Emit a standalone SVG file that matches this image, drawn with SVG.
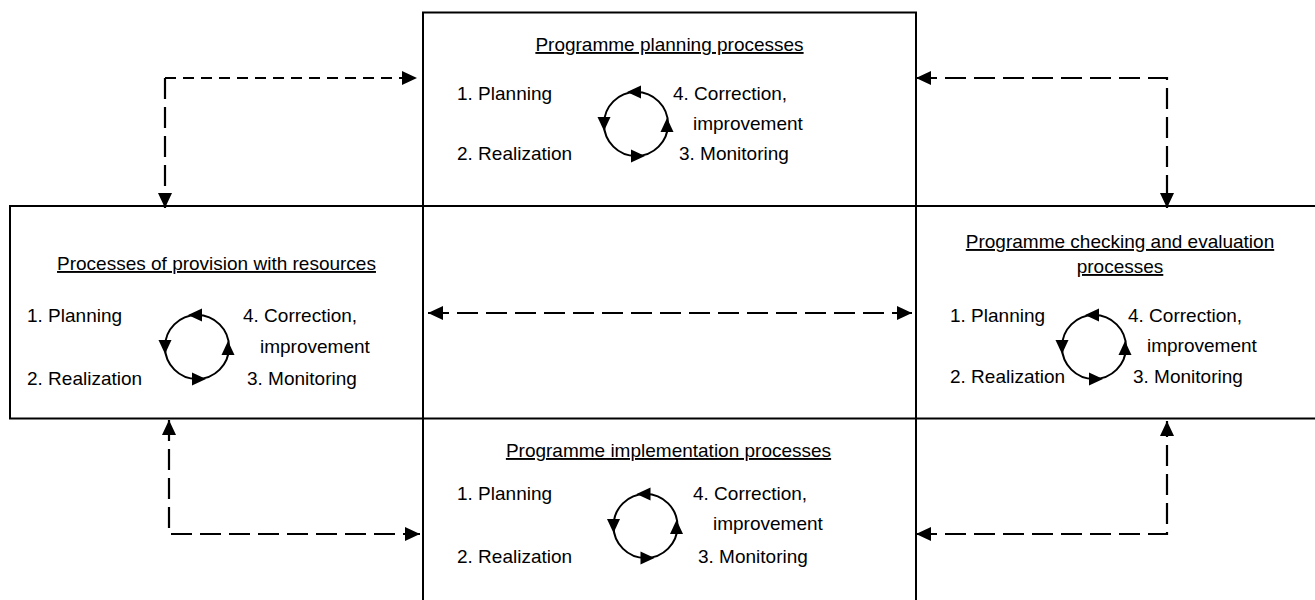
<svg xmlns="http://www.w3.org/2000/svg" xmlns:xlink="http://www.w3.org/1999/xlink" width="1315" height="600" viewBox="0 0 1315 600">
<style>
  .box { fill: #ffffff; stroke: #000000; stroke-width: 2; }
  text { font-family: "Liberation Sans", Arial, sans-serif; font-size: 19px; fill: #000000; }
  .title { text-anchor: middle; text-decoration: underline; }
  .conn { fill: none; stroke: #000000; stroke-width: 2.2; stroke-dasharray: 21 8; marker-start: url(#ah); marker-end: url(#ah); }
  .short { stroke-dasharray: 11 7; }
  .ring { fill: none; stroke: #000000; stroke-width: 2; }
</style>
<defs>
  <marker id="ah" viewBox="0 0 15 14" refX="15" refY="7" markerWidth="15" markerHeight="14" markerUnits="userSpaceOnUse" orient="auto-start-reverse">
    <path d="M0,0 L15,7 L0,14 Z" fill="#000000"/>
  </marker>
  <path id="tri" d="M-7,-6.5 L7,0 L-7,6.5 Z" fill="#000000"/>
  <g id="cycle">
    <circle class="ring" cx="0" cy="0" r="32"/>
    <use xlink:href="#tri" transform="translate(-2,-32) rotate(180)"/>
    <use xlink:href="#tri" transform="translate(-32,0) rotate(90)"/>
    <use xlink:href="#tri" transform="translate(2,32)"/>
    <use xlink:href="#tri" transform="translate(31,1) rotate(-90)"/>
  </g>
</defs>
<rect x="0" y="0" width="1315" height="600" fill="#ffffff"/>

<g id="node-planning">
  <rect class="box" x="423" y="12.5" width="493" height="193.5"/>
  <text class="title" x="669.5" y="51">Programme planning processes</text>
  <text x="457" y="100">1. Planning</text>
  <text x="457" y="160">2. Realization</text>
  <text x="673" y="100">4. Correction,</text>
  <text x="693" y="130">improvement</text>
  <text x="679" y="160">3. Monitoring</text>
  <use xlink:href="#cycle" transform="translate(636,124)"/>
</g>

<g id="node-resources">
  <rect class="box" x="10" y="206" width="413" height="212.5"/>
  <text class="title" x="216.5" y="270">Processes of provision with resources</text>
  <text x="27" y="322">1. Planning</text>
  <text x="27" y="385">2. Realization</text>
  <text x="243" y="322">4. Correction,</text>
  <text x="260" y="353">improvement</text>
  <text x="247" y="385">3. Monitoring</text>
  <use xlink:href="#cycle" transform="translate(197,347)"/>
</g>

<g id="node-checking">
  <rect class="box" x="916" y="206" width="420" height="212.5"/>
  <text class="title" x="1120" y="248">Programme checking and evaluation</text>
  <text class="title" x="1120" y="273">processes</text>
  <text x="950" y="322">1. Planning</text>
  <text x="950" y="383">2. Realization</text>
  <text x="1128" y="322">4. Correction,</text>
  <text x="1147" y="352">improvement</text>
  <text x="1133" y="383">3. Monitoring</text>
  <use xlink:href="#cycle" transform="translate(1094,347)"/>
</g>

<g id="node-implementation">
  <rect class="box" x="423" y="418.5" width="493" height="200"/>
  <text class="title" x="668.5" y="457">Programme implementation processes</text>
  <text x="457" y="500">1. Planning</text>
  <text x="457" y="563">2. Realization</text>
  <text x="693" y="500">4. Correction,</text>
  <text x="713" y="530">improvement</text>
  <text x="698" y="563">3. Monitoring</text>
  <use xlink:href="#cycle" transform="translate(645.5,526)"/>
</g>

<g id="connectors">
  <path class="conn" d="M165,78 V208" style="marker-start:none"/>
  <path class="conn short" d="M165,78 H417" style="marker-start:none"/>
  <path class="conn" d="M916,78 H1167 V208"/>
  <path class="conn" d="M428,313 H912"/>
  <path class="conn" d="M169,420 V534 H420"/>
  <path class="conn" d="M916,534 H1167 V421"/>
</g>
</svg>
